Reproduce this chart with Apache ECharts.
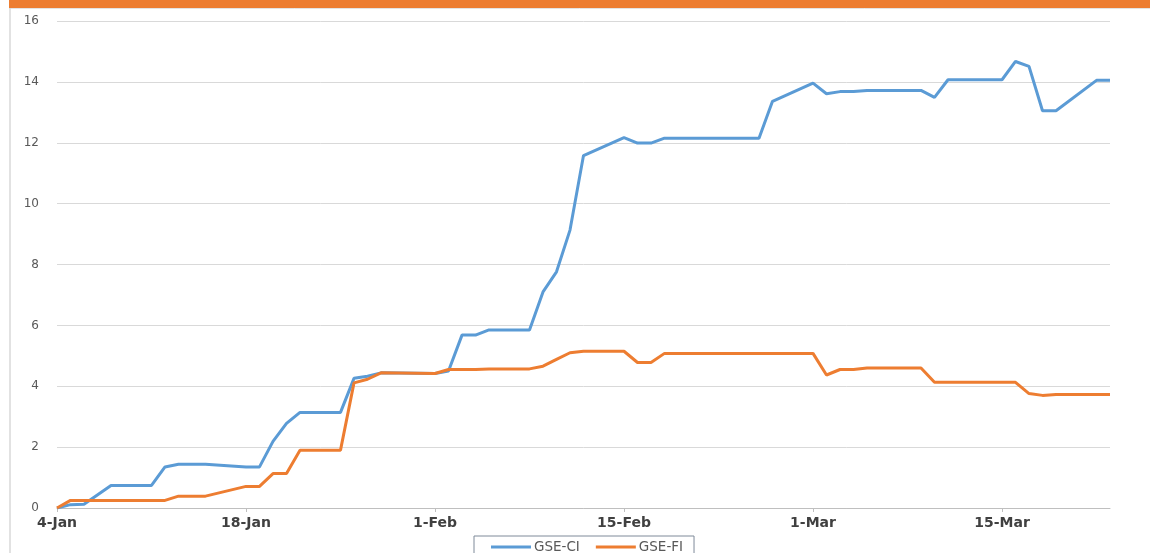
<!DOCTYPE html>
<html>
<head>
<meta charset="utf-8">
<script src="https://cdn.jsdelivr.net/npm/echarts@6/dist/echarts.min.js"></script>
<style>
html,body{margin:0;padding:0;background:#fff;}
#chart{width:1150px;height:553px;}
</style>
</head>
<body>
<div id="chart"></div>
<script>
// Dates of the plotted points (2017: Feb has 28 days)
const dates = ['2017-01-04','2017-01-05','2017-01-06','2017-01-08','2017-01-11','2017-01-12','2017-01-13','2017-01-15',
  '2017-01-18','2017-01-19','2017-01-20','2017-01-21','2017-01-22','2017-01-25','2017-01-26','2017-01-27','2017-01-28',
  '2017-02-01','2017-02-02','2017-02-03','2017-02-04','2017-02-05','2017-02-08','2017-02-09','2017-02-10','2017-02-11','2017-02-12',
  '2017-02-15','2017-02-16','2017-02-17','2017-02-18','2017-02-25','2017-02-26',
  '2017-03-01','2017-03-02','2017-03-03','2017-03-04','2017-03-05','2017-03-09','2017-03-10','2017-03-11',
  '2017-03-15','2017-03-16','2017-03-17','2017-03-18','2017-03-19','2017-03-22','2017-03-23'];
const gseCI = [0,0.11,0.12,0.74,0.74,1.35,1.44,1.44,
  1.35,1.35,2.19,2.78,3.14,3.14,4.26,4.33,4.44,
  4.42,4.50,5.68,5.68,5.85,5.85,7.10,7.76,9.13,11.58,
  12.17,11.99,11.99,12.15,12.15,13.36,
  13.96,13.61,13.68,13.68,13.72,13.72,13.49,14.07,
  14.07,14.67,14.51,13.05,13.05,14.05,14.05];
const gseFI = [0,0.25,0.25,0.25,0.25,0.25,0.39,0.39,
  0.71,0.71,1.13,1.13,1.90,1.90,4.11,4.23,4.44,
  4.42,4.55,4.55,4.55,4.57,4.57,4.66,4.88,5.10,5.15,
  5.15,4.78,4.78,5.08,5.08,5.08,
  5.08,4.37,4.55,4.55,4.60,4.60,4.13,4.13,
  4.13,4.13,3.76,3.70,3.73,3.73,3.73];
const xTickLabels = ['4-Jan','18-Jan','1-Feb','15-Feb','1-Mar','15-Mar'];
const yTicks = [0,2,4,6,8,10,12,14,16];
const seriesNames = ['GSE-CI','GSE-FI'];

const DAY = 86400000;
const t0 = Date.parse(dates[0]);
const dayIdx = dates.map(d => Math.round((Date.parse(d) - t0) / DAY));
const endDay = Math.round((Date.parse('2017-03-23') - t0) / DAY);
const tickDays = xTickLabels.map((_, i) => i * 14);

const chart = echarts.init(document.getElementById('chart'));
chart.setOption({
  animation: false,
  backgroundColor: '#ffffff',
  graphic: [
    {type:'rect', shape:{x:9,y:0,width:1141,height:8}, style:{fill:'#ED7D31'}},
    {type:'line', shape:{x1:9,y1:8.5,x2:1150,y2:8.5}, style:{stroke:'#e3e3e3',lineWidth:1}},
    {type:'line', shape:{x1:10,y1:8,x2:10,y2:553}, style:{stroke:'#d9d9d9',lineWidth:1.5}}
  ],
  grid: {left:57, right:40, top:21, bottom:45, containLabel:false},
  legend: {
    data: seriesNames,
    left: 474, top: 536,
    icon: 'rect', itemWidth: 40, itemHeight: 3, itemGap: 16,
    borderColor: '#7f8a99', borderWidth: 1, borderRadius: 0,
    padding: [4, 11, 10, 17],
    textStyle: {color:'#595959', fontFamily:'DejaVu Sans', fontSize:13.5, padding:[0,0,0,-2]}
  },
  xAxis: {
    type: 'value', min: 0, max: endDay, interval: 14,
    axisLine: {show:true, lineStyle:{color:'#bfbfbf', width:1}},
    axisTick: {show:true, length:4, lineStyle:{color:'#bfbfbf'}, customValues: tickDays},
    splitLine: {show:false},
    axisLabel: {
      customValues: tickDays,
      formatter: v => xTickLabels[Math.round(v/14)] || '',
      color:'#404040', fontFamily:'DejaVu Sans', fontSize:14, fontWeight:'bold', margin:8
    }
  },
  yAxis: {
    type: 'value', min: yTicks[0], max: yTicks[yTicks.length-1], interval: 2,
    axisLine: {show:false}, axisTick: {show:false},
    splitLine: {lineStyle:{color:'#d9d9d9', width:1}},
    axisLabel: {color:'#595959', fontFamily:'DejaVu Sans', fontSize:12, margin:18}
  },
  series: [
    {name: seriesNames[0], type:'line', data: dayIdx.map((d,i)=>[d,gseCI[i]]),
     showSymbol:false, symbol:'none', lineStyle:{color:'#5B9BD5', width:3}, itemStyle:{color:'#5B9BD5'}},
    {name: seriesNames[1], type:'line', data: dayIdx.map((d,i)=>[d,gseFI[i]]),
     showSymbol:false, symbol:'none', lineStyle:{color:'#ED7D31', width:3}, itemStyle:{color:'#ED7D31'}}
  ]
});
</script>
</body>
</html>
